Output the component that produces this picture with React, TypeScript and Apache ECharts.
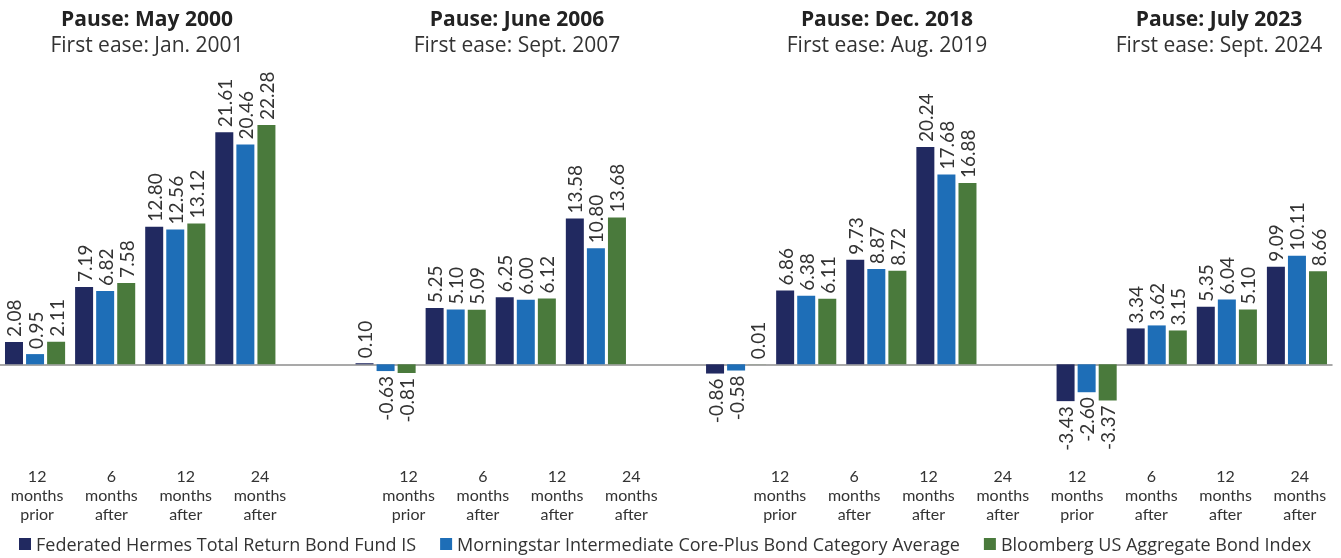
import React, { useEffect, useRef } from "react";
import * as echarts from "echarts";

const FONT = "Lato, 'Open Sans', sans-serif";
const WIDE_FONT = "'Open Sans', Lato, sans-serif";

// Group headers
const pauseTitles = ["Pause: May 2000", "Pause: June 2006", "Pause: Dec. 2018", "Pause: July 2023"];
const easeTitles = ["First ease: Jan. 2001", "First ease: Sept. 2007", "First ease: Aug. 2019", "First ease: Sept. 2024"];

// Period tick labels (per group)
const periods = ["12\nmonths\nprior", "6\nmonths\nafter", "12\nmonths\nafter", "24\nmonths\nafter"];

// Series values, 4 groups x 4 periods
const federated = [2.08, 7.19, 12.8, 21.61, 0.1, 5.25, 6.25, 13.58, -0.86, 6.86, 9.73, 20.24, -3.43, 3.34, 5.35, 9.09];
const morningstar = [0.95, 6.82, 12.56, 20.46, -0.63, 5.1, 6.0, 10.8, -0.58, 6.38, 8.87, 17.68, -2.6, 3.62, 6.04, 10.11];
const bloomberg = [2.11, 7.58, 13.12, 22.28, -0.81, 5.09, 6.12, 13.68, 0.01, 6.11, 8.72, 16.88, -3.37, 3.15, 5.1, 8.66];

const seriesNames = [
  "Federated Hermes Total Return Bond Fund IS",
  "Morningstar Intermediate Core-Plus Bond Category Average",
  "Bloomberg US Aggregate Bond Index",
];
const colors = ["#212960", "#1e6eb7", "#4a7a3c"];

// Layout: bar slots have an empty slot after groups 1-3; label slots after groups 1-2
const barGapAfter = [true, true, true, false];
const labelGapAfter = [true, true, false, false];

function buildSlots(gapAfter: boolean[]) {
  const slots: { id: string; g: number; p: number }[] = [];
  for (let g = 0; g < 4; g++) {
    for (let p = 0; p < 4; p++) slots.push({ id: `g${g}p${p}`, g, p });
    if (gapAfter[g]) slots.push({ id: `gap${g}`, g: -1, p: -1 });
  }
  return slots;
}

export default function App() {
  const ref = useRef<HTMLDivElement>(null);

  useEffect(() => {
    const chart = echarts.init(ref.current!, null, { renderer: "svg" });
    const barSlots = buildSlots(barGapAfter);
    const labelSlots = buildSlots(labelGapAfter);
    const allValues = [federated, morningstar, bloomberg];

    const series = allValues.map((vals, si) => ({
      type: "bar",
      name: seriesNames[si],
      xAxisIndex: 0,
      yAxisIndex: 0,
      barWidth: 18,
      barGap: "17%",
      itemStyle: { color: colors[si] },
      label: {
        show: true,
        position: "top",
        rotate: 90,
        align: "left",
        verticalAlign: "middle",
        distance: 5,
        fontSize: 19,
        fontFamily: FONT,
        color: "#333",
        formatter: (p: any) => (typeof p.value === "number" ? p.value.toFixed(2) : ""),
      },
      data: barSlots.map((s) => {
        if (s.g < 0) return "-";
        const v = vals[s.g * 4 + s.p];
        if (v < 0) return { value: v, label: { position: "bottom", align: "right" } };
        return v;
      }),
    }));

    const titleX = [147, 517, 887, 1219];
    const graphics: any[] = [];
    pauseTitles.forEach((t, i) => {
      graphics.push({
        type: "text",
        x: titleX[i],
        y: 18,
        style: { text: t, fontSize: 21, fontWeight: "bold", fontFamily: WIDE_FONT, fill: "#222", align: "center", verticalAlign: "middle" },
      });
      graphics.push({
        type: "text",
        x: titleX[i],
        y: 44,
        style: { text: easeTitles[i], fontSize: 21, fontFamily: WIDE_FONT, fill: "#333", align: "center", verticalAlign: "middle" },
      });
    });

    chart.setOption({
      animation: false,
      grid: [
        { left: -1, top: 95.8, width: 1333, height: 375.9 },
        { left: -3, top: 0, width: 1340, height: 455 },
      ],
      xAxis: [
        {
          type: "category",
          gridIndex: 0,
          data: barSlots.map((s) => s.id),
          axisLine: { onZero: true, lineStyle: { color: "#8c8c8c", width: 1.5 } },
          axisTick: { show: false },
          axisLabel: { show: false },
        },
        {
          type: "category",
          gridIndex: 1,
          position: "bottom",
          data: labelSlots.map((s) => s.id),
          axisLine: { show: false, onZero: false },
          axisTick: { show: false },
          axisLabel: {
            interval: 0,
            margin: 11,
            fontSize: 16,
            lineHeight: 19,
            color: "#333",
            fontFamily: FONT,
            formatter: (_v: string, idx: number) => {
              const s = labelSlots[idx];
              return s && s.g >= 0 ? periods[s.p] : "";
            },
          },
        },
      ],
      yAxis: [
        { type: "value", gridIndex: 0, min: -10, max: 25, show: false },
        { type: "value", gridIndex: 1, min: 0, max: 1, show: false },
      ],
      legend: {
        data: seriesNames,
        left: 19,
        top: 534,
        padding: 0,
        icon: "rect",
        itemWidth: 12,
        itemHeight: 12,
        itemGap: 24,
        textStyle: { fontSize: 18, fontFamily: WIDE_FONT, color: "#333", lineHeight: 20 },
      },
      graphic: graphics,
      series,
    });

    return () => chart.dispose();
  }, []);

  return <div ref={ref} style={{ position: "fixed", left: 0, top: 0, width: 1341, height: 558 }} />;
}
